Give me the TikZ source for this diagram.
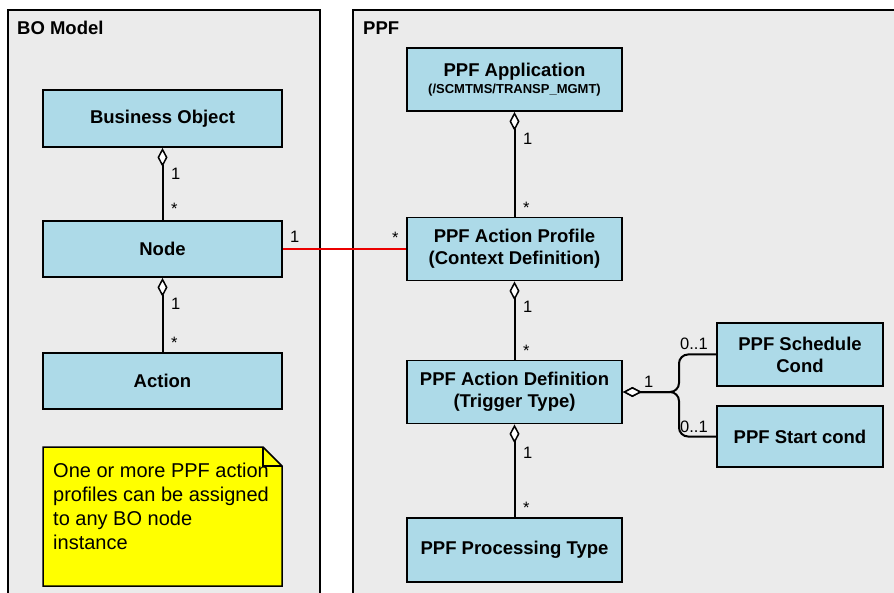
\documentclass[tikz,border=0pt]{standalone}
\usepackage{fontspec}
\setmainfont{Liberation Sans}
\usepackage{tikz}
\usetikzlibrary{arrows.meta}
\definecolor{panelgray}{RGB}{235,235,235}
\definecolor{classblue}{RGB}{173,218,232}
\definecolor{noteyellow}{RGB}{255,255,0}
\definecolor{linkred}{RGB}{235,0,0}

\begin{document}
\begin{tikzpicture}[x=1pt, y=-1pt,
        panel/.style={draw, line width=1.6pt, fill=panelgray},
        cls/.style={draw, line width=1.8pt, fill=classblue, inner sep=0pt,
            minimum width=239pt, minimum height=56pt, align=center,
            font=\fontsize{18.5}{22}\selectfont\bfseries},
        ppfcls/.style={cls, minimum width=215pt, minimum height=63pt},
        mult/.style={anchor=base west, inner sep=0pt, font=\fontsize{16.5}{18}\selectfont},
        title/.style={anchor=base west, inner sep=0pt, font=\fontsize{18.5}{22}\selectfont\bfseries},
        agg/.style={line width=2pt, {Diamond[length=19pt, width=10pt, fill=white, line width=1.5pt]}-}
    ]
                        \useasboundingbox (0,0) rectangle (894,593);

                        \draw[panel] (8,10) rectangle (320,610);
                        \draw[panel] (353,10) rectangle (910,610);

                        \node[title] (bomodel) at (17,35) {BO Model};
                        \node[title] (ppftitle) at (363,35) {PPF};

                        \node[cls, minimum height=57pt] (bo) at (162.5,118.5) {Business Object};
                        \node[cls] (node) at (162.5,249) {Node};
                        \node[cls] (action) at (162.5,381) {Action};

                        \node[ppfcls] (app) at (514.5,79.5) {PPF Application\\[-5pt]{\fontsize{13}{15}\selectfont(/SCMTMS/TRANSP\_MGMT)}};
                        \node[ppfcls] (profile) at (514.5,249) {PPF Action Profile\\(Context Definition)};
                        \node[ppfcls] (def) at (514.5,392) {PPF Action Definition\\(Trigger Type)};
                        \node[ppfcls, minimum height=64pt] (proc) at (514.5,550) {PPF Processing Type};
                        \node[ppfcls, minimum width=166pt] (sched) at (800,354.5) {PPF Schedule\\Cond};
                        \node[ppfcls, minimum width=166pt, minimum height=61pt] (start) at (800,436.5) {PPF Start cond};

                        \draw[agg] (bo) -- (node);
                        \draw[agg] (node) -- (action);
                        \draw[agg] (app) -- (profile);
                        \draw[agg] (profile) -- (def);
                        \draw[agg] (def) -- (proc);
                        \draw[linkred, line width=1.5pt] (node) -- (profile);

                        \coordinate (fork) at (679,392);
                        \draw[agg, rounded corners=9pt] (def.east) -- (fork) |- (sched.west);
                        \draw[agg, rounded corners=9pt] (def.east) -- (fork) |- (start.west);

                        \node[mult] (bo1) at (171,180) {1};
                        \node[mult] (bostar) at (171,215) {*};
                        \node[mult] (node1) at (171,310) {1};
                        \node[mult] (nodestar) at (171,349) {*};
                        \node[mult] (link1) at (290,243) {1};
                        \node[mult] (linkstar) at (392,244) {*};
                        \node[mult] (app1) at (523,145) {1};
                        \node[mult] (appstar) at (523,214) {*};
                        \node[mult] (profile1) at (523,313) {1};
                        \node[mult] (profilestar) at (523,357) {*};
                        \node[mult] (def1) at (523,458) {1};
                        \node[mult] (defstar) at (523,513) {*};
                        \node[mult] (fork1) at (644,388) {1};
                        \node[mult] (sched01) at (680,350) {0..1};
                        \node[mult] (start01) at (680,432) {0..1};

                        \draw[line width=1.5pt, fill=noteyellow] (43,447) -- (263,447) -- (282,466) -- (282,586) -- (43,586) -- cycle;
                        \draw[line width=1.5pt] (263,447) -- (263,466) -- (282,466);
                        \node[anchor=north west, inner sep=0pt, align=left, font=\fontsize{20}{24}\selectfont] (notetext) at (53,463)
                            {One or more PPF action\\profiles can be assigned\\to any BO node\\instance};
                    \end{tikzpicture}
\end{document}
